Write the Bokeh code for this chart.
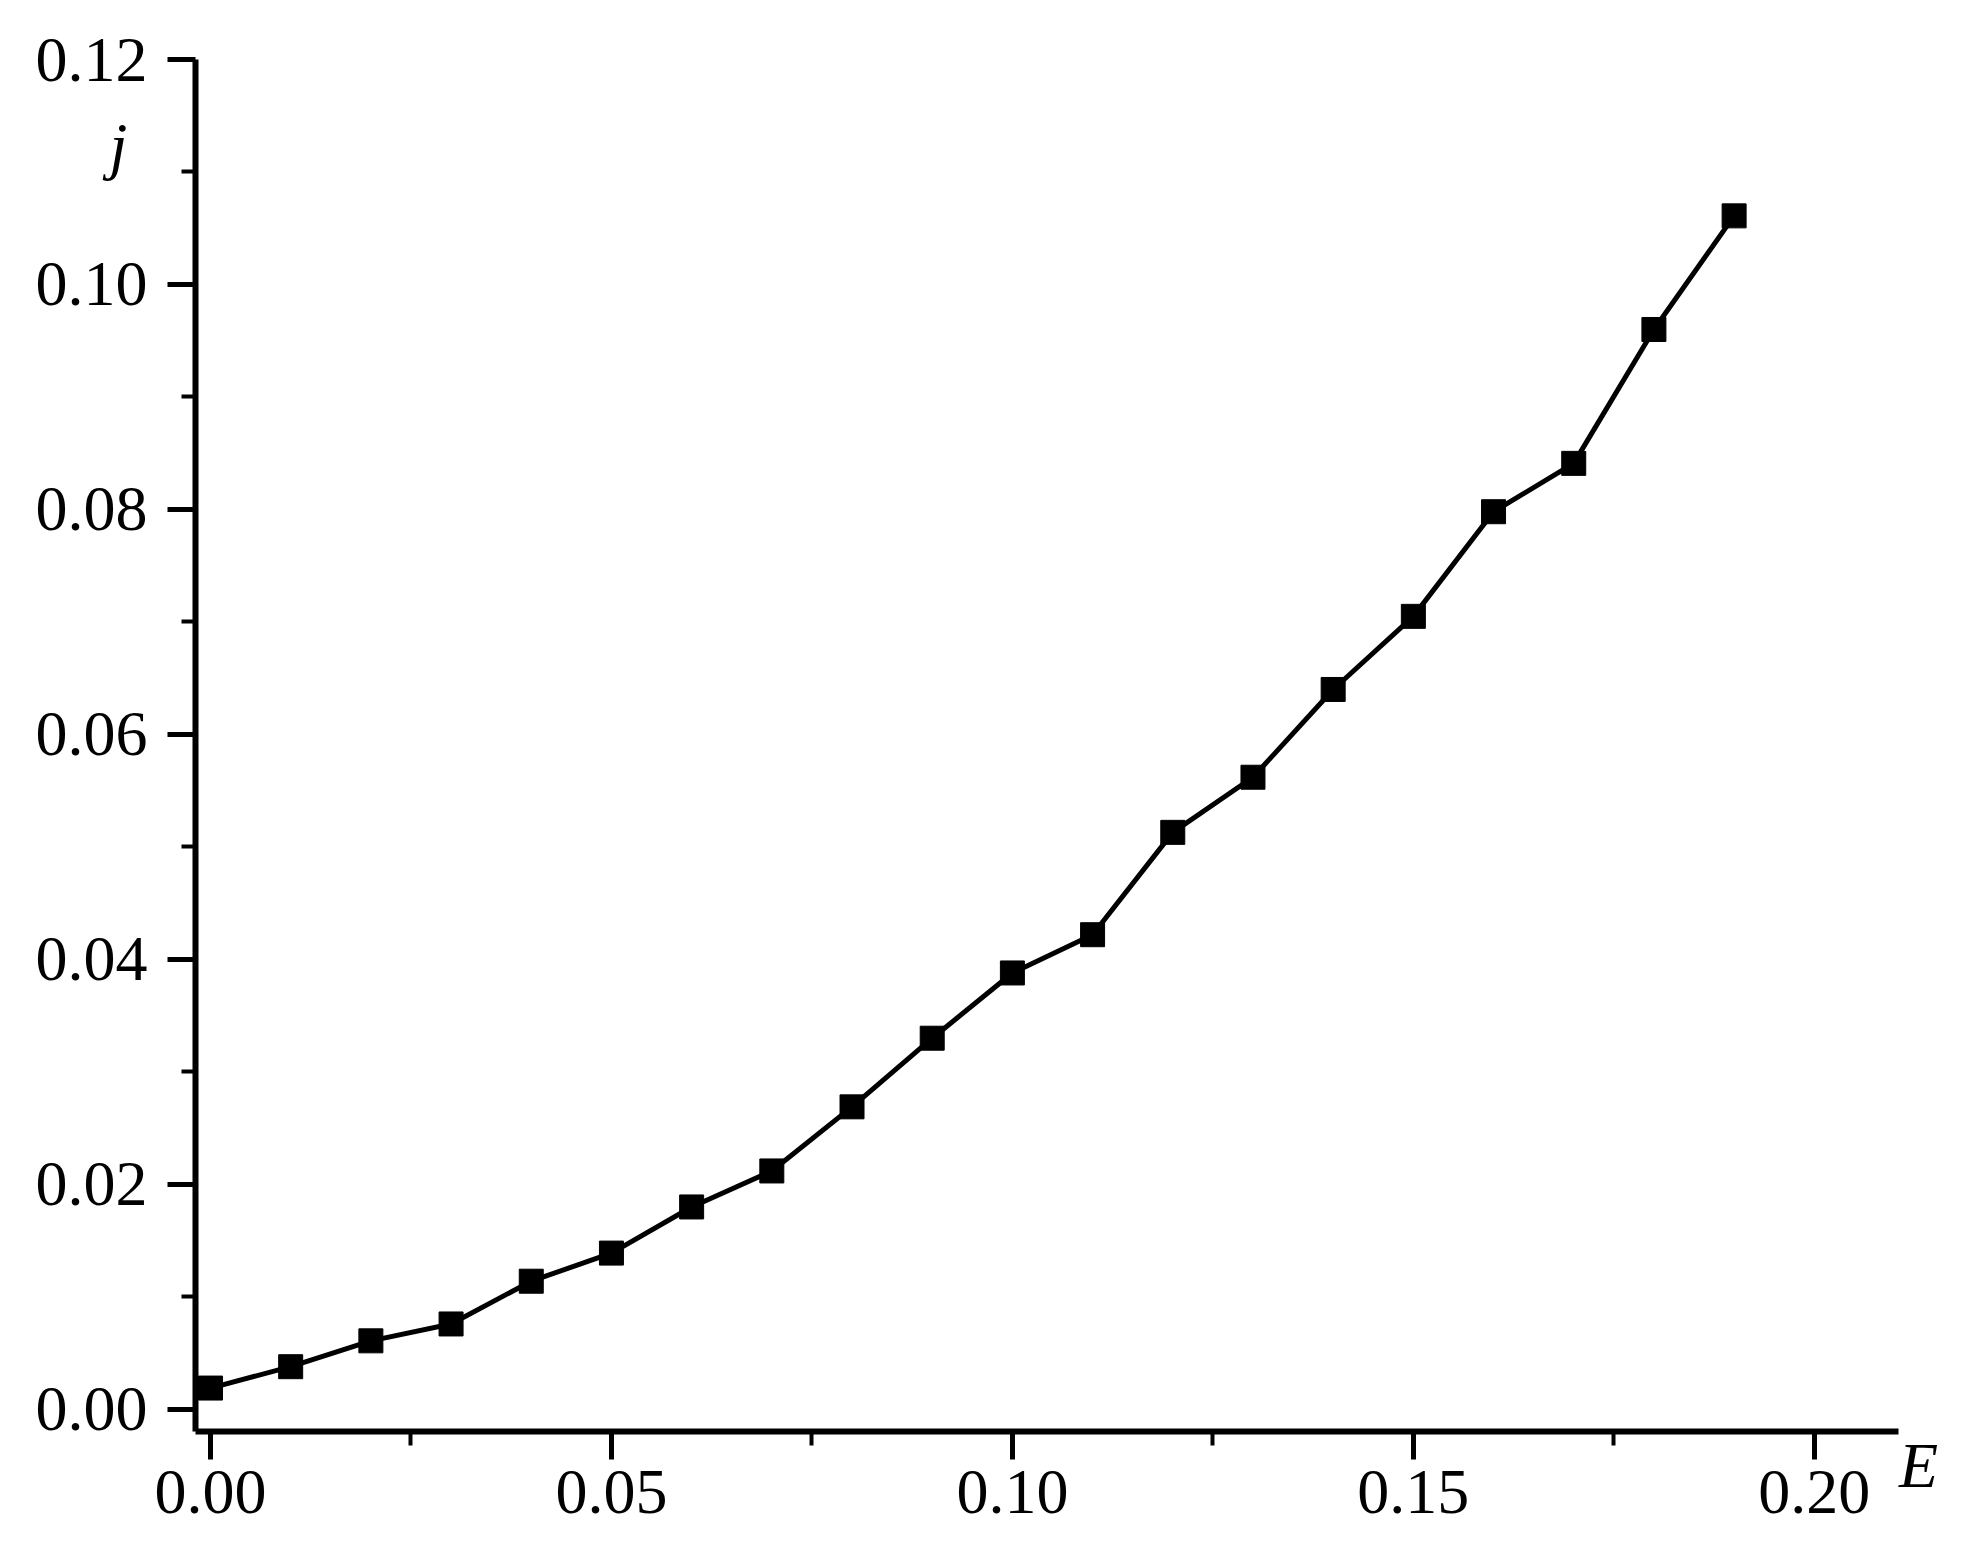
from bokeh.plotting import figure
from bokeh.models import FixedTicker, PrintfTickFormatter, Range1d, Label
from bokeh.embed import file_html
from bokeh.resources import INLINE

E_values = [0.00, 0.01, 0.02, 0.03, 0.04, 0.05, 0.06, 0.07, 0.08, 0.09,
            0.10, 0.11, 0.12, 0.13, 0.14, 0.15, 0.16, 0.17, 0.18, 0.19]
j_values = [0.0019, 0.0038, 0.0061, 0.0076, 0.0114, 0.0139, 0.0180, 0.0212, 0.0269, 0.0330,
            0.0388, 0.0422, 0.0513, 0.0562, 0.0640, 0.0705, 0.0798, 0.0841, 0.0960, 0.1061]
x_ticks = [0.00, 0.05, 0.10, 0.15, 0.20]
x_minor = [0.025, 0.075, 0.125, 0.175]
y_ticks = [0.00, 0.02, 0.04, 0.06, 0.08, 0.10, 0.12]
y_minor = [0.01, 0.03, 0.05, 0.07, 0.09, 0.11]

FONT = "Liberation Serif"

p = figure(width=1950, height=1550, output_backend="svg", toolbar_location=None,
           x_range=Range1d(-0.00187, 0.2105), y_range=Range1d(-0.00196, 0.12),
           min_border_left=195, min_border_right=52, min_border_top=59, min_border_bottom=119)
p.outline_line_color = None
p.grid.visible = False
p.background_fill_color = "white"
p.border_fill_color = "white"

for ax, ticks, minor in ((p.xaxis[0], x_ticks, x_minor), (p.yaxis[0], y_ticks, y_minor)):
    ax.ticker = FixedTicker(ticks=ticks, minor_ticks=minor)
    ax.formatter = PrintfTickFormatter(format="%.2f")
    ax.axis_line_width = 6
    ax.axis_line_color = "black"
    ax.major_tick_line_width = 5
    ax.minor_tick_line_width = 4
    ax.major_tick_out = 28
    ax.major_tick_in = 0
    ax.minor_tick_out = 14
    ax.minor_tick_in = 0
    ax.major_label_text_font = FONT
    ax.major_label_text_font_size = "64px"
    ax.major_label_text_color = "black"

p.yaxis[0].major_label_standoff = 20
p.xaxis[0].major_label_standoff = 11

p.line(E_values, j_values, line_color="black", line_width=5)
p.scatter(E_values, j_values, marker="square", size=24, fill_color="black", line_color="black")

p.add_layout(Label(x=104, y=1286, x_units="screen", y_units="screen", text="j", text_font=FONT,
                   text_font_style="italic", text_font_size="64px", text_align="center",
                   text_baseline="alphabetic", text_color="black"), "left")
p.add_layout(Label(x=20, y=-34, x_units="screen", y_units="screen", text="E", text_font=FONT,
                   text_font_style="italic", text_font_size="64px", text_align="center",
                   text_baseline="alphabetic", text_color="black"), "right")

open("out.html", "w").write(file_html(p, INLINE))
